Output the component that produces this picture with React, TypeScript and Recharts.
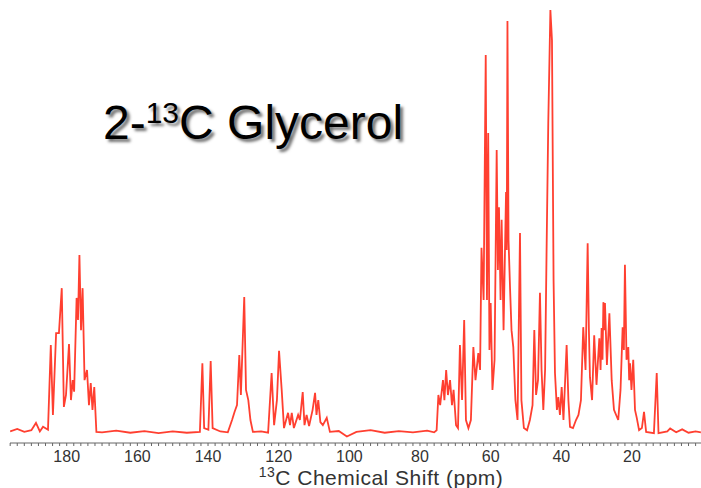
import { LineChart, Line, XAxis, YAxis } from "recharts";

// [shift (ppm), intensity (% of tallest peak)], listed high field -> low field as drawn
const carbonylRegion: [number, number][] = [
  [196.0, 0.6], [194.0, 1.2], [192.0, 0.5], [190.0, 0.9], [188.7, 2.6], [187.6, 0.6],
  [186.7, 1.7], [185.3, 1.0], [184.5, 21.0], [183.9, 4.5], [183.0, 23.8], [182.2, 23.8],
  [181.4, 34.4], [180.8, 6.4], [180.2, 9.2], [179.35, 21.2], [178.8, 8.0], [178.3, 12.7],
  [177.9, 10.0], [177.2, 32.1], [176.8, 26.9], [176.4, 42.2], [175.95, 24.5], [175.5, 34.4],
  [174.95, 12.7], [174.25, 15.1], [173.7, 6.8], [173.2, 12.0], [172.7, 5.7], [172.2, 11.1],
  [171.6, 0.5], [170.0, 0.4], [166.0, 0.8], [162.0, 0.3], [158.0, 0.7], [154.0, 0.2],
  [150.0, 0.6], [146.0, 0.3], [142.3, 0.5],
];

const aromaticRegion: [number, number][] = [
  [141.6, 16.7], [141.1, 1.4], [139.9, 1.0], [139.25, 17.2], [138.7, 1.4], [136.5, 0.6],
  [134.4, 0.4], [133.2, 3.3], [132.5, 5.2], [131.8, 6.8], [131.15, 18.6], [130.7, 9.2],
  [129.75, 32.3], [129.25, 10.4], [128.6, 8.0], [128.0, 3.3], [127.3, 0.5], [125.0, 0.6],
  [123.0, 0.3], [122.0, 14.4], [121.3, 2.1], [120.5, 8.0], [119.9, 19.6], [119.15, 10.4],
  [118.5, 1.4], [117.35, 5.0], [116.8, 2.1], [116.3, 5.0], [115.7, 1.4], [114.5, 4.5],
  [114.0, 3.3], [113.2, 9.9], [112.7, 2.1], [112.1, 4.5], [111.4, 1.9], [110.4, 5.7],
  [109.7, 9.7], [109.3, 4.5], [108.8, 8.0], [108.2, 2.8], [107.5, 2.1], [106.4, 3.8],
  [105.5, 0.5], [103.0, 0.7], [100.7, -0.6], [98.0, 0.5], [94.0, 0.9], [90.0, 0.3],
  [86.0, 0.7], [82.0, 0.4], [78.0, 0.8], [76.0, 0.4],
];

const aliphaticRegion: [number, number][] = [
  [75.3, 0.9], [74.8, 9.2], [74.3, 6.8], [73.5, 12.7], [73.1, 8.0], [72.6, 15.1],
  [72.1, 9.2], [71.5, 12.7], [70.95, 6.8], [70.5, 10.4], [69.8, 2.1], [69.25, 1.4],
  [68.7, 21.0], [68.1, 8.0], [67.5, 26.9], [67.0, 3.3], [66.3, 1.4], [65.6, 3.3],
  [64.9, 20.5], [64.3, 12.7], [63.5, 19.1], [63.0, 15.1], [62.6, 43.9], [62.0, 31.6],
  [61.4, 89.4], [61.05, 31.6], [60.7, 71.0], [60.35, 19.8], [60.0, 30.9], [59.5, 10.4],
  [58.9, 17.5], [58.3, 67.0], [57.95, 38.7], [57.65, 53.5], [57.2, 31.6], [56.9, 50.5],
  [56.35, 24.5], [55.65, 57.1], [55.45, 43.4], [55.25, 97.4], [54.95, 45.8], [54.5, 34.0],
  [54.1, 24.5], [53.6, 20.5], [53.0, 8.0], [52.4, 3.3], [51.7, 47.4], [51.3, 8.0],
  [50.6, 1.4], [49.7, 0.9], [48.9, 3.3], [48.15, 6.8], [47.65, 24.5], [47.15, 9.2],
  [46.6, 12.7], [46.05, 33.3], [45.6, 15.1], [45.1, 5.7], [44.6, 15.1], [44.15, 45.0],
  [43.7, 73.3], [43.1, 100], [42.65, 92.9], [42.2, 36.3], [41.8, 14.4], [41.25, 5.7],
  [40.85, 8.7], [40.4, 4.5], [39.9, 11.1], [39.4, 3.3], [38.5, 21.0], [38.0, 8.0],
  [37.55, 1.7], [36.7, 1.4], [35.85, 3.3], [35.15, 4.5], [34.45, 8.0], [33.8, 25.2],
  [33.15, 15.1], [32.55, 45.0], [32.2, 24.5], [31.9, 13.4], [31.3, 8.0], [30.7, 23.3],
  [30.05, 11.6], [29.25, 22.6], [28.9, 15.1], [28.6, 25.0], [28.35, 17.5], [28.1, 31.1],
  [27.85, 24.5], [27.65, 30.9], [27.1, 16.3], [26.4, 28.5], [25.75, 12.7], [25.1, 5.7],
  [23.9, 3.3], [23.25, 10.4], [22.65, 25.2], [22.3, 19.8], [22.0, 39.9], [21.55, 17.5],
  [21.05, 20.5], [20.8, 12.7], [20.55, 16.7], [20.15, 10.4], [19.65, 17.5], [19.15, 5.7],
  [18.65, 3.8], [18.0, 0.9], [17.2, 1.4], [16.6, 5.2], [16.0, 0.5], [13.8, 0.2],
  [13.0, 14.4], [12.5, 0.2], [10.0, 0.6], [9.2, 1.3], [7.5, 0.4], [5.8, 1.1],
  [4.0, 0.3], [2.0, 0.6], [0.5, 0.4],
];

const tickLabels = [180, 160, 140, 120, 100, 80, 60, 40, 20];

const spectrum = [...carbonylRegion, ...aromaticRegion, ...aliphaticRegion].map(
  ([ppm, intensity]) => ({ ppm, intensity })
);

// minor ticks every 2 ppm, labelled every 20
const axisTicks: number[] = [];
for (let t = 2; t <= 196; t += 2) axisTicks.push(t);

const FONT = '"Liberation Sans", Arial, Helvetica, sans-serif';

function AxisTitle() {
  return (
    <text x={381} y={485} textAnchor="middle" fill="#333" fontFamily={FONT} fontSize={21} letterSpacing={0.5}>
      <tspan fontSize={14} dy={-8}>13</tspan>
      <tspan dy={8}>C Chemical Shift (ppm)</tspan>
    </text>
  );
}

export default function App() {
  return (
    <div style={{ position: "absolute", left: 0, top: 0, width: 701, height: 488, background: "#fff" }}>
      <LineChart
        width={701}
        height={488}
        data={spectrum}
        margin={{ top: 10, right: 0, left: 10, bottom: 0 }}
      >
        <XAxis
          dataKey="ppm"
          type="number"
          domain={[0.47, 196.05]}
          reversed
          allowDataOverflow
          ticks={axisTicks}
          interval={0}
          tickFormatter={(v: number) => (tickLabels.includes(v) ? String(v) : "")}
          height={45}
          tickSize={3}
          tickMargin={5}
          stroke="#666"
          tick={{ fill: "#333", fontSize: 16, fontFamily: FONT }}
          label={<AxisTitle />}
        />
        <YAxis hide domain={[-2.12, 100]} allowDataOverflow />
        <Line
          type="linear"
          dataKey="intensity"
          stroke="#ff2a1a"
          strokeWidth={1.8}
          strokeOpacity={0.9}
          dot={false}
          isAnimationActive={false}
        />
      </LineChart>
      <div
        style={{
          position: "absolute",
          left: 103,
          top: 99,
          fontFamily: FONT,
          fontSize: 48,
          lineHeight: "48px",
          color: "#000",
          whiteSpace: "nowrap",
          textShadow: "3px 3px 3px rgba(0,0,0,0.55)",
        }}
      >
        2-<span style={{ fontSize: 30, position: "relative", top: -16 }}>13</span>C Glycerol
      </div>
    </div>
  );
}
